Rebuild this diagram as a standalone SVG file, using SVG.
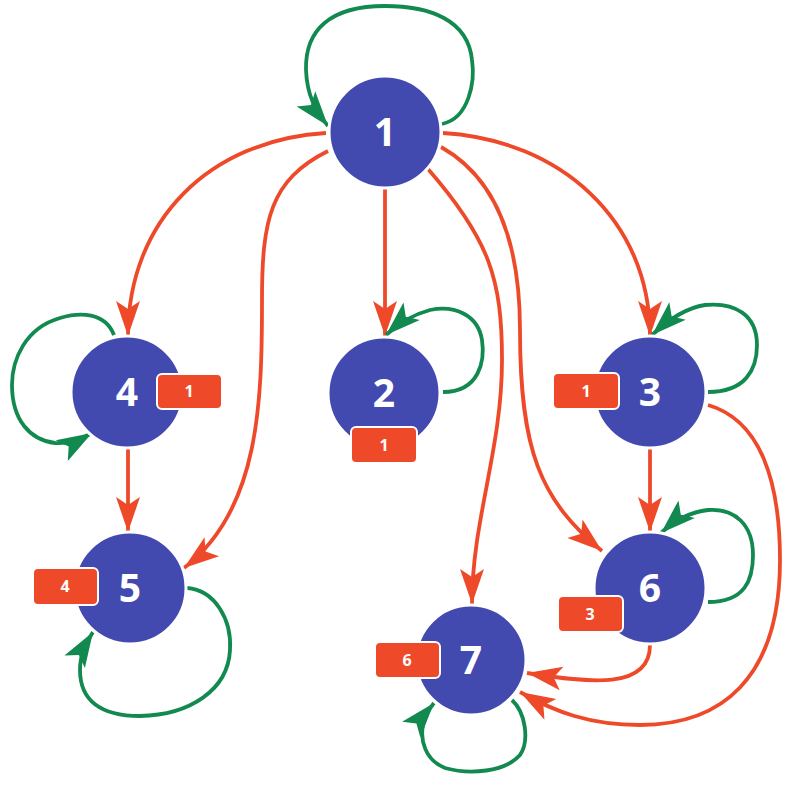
<svg xmlns="http://www.w3.org/2000/svg" width="800" height="787" viewBox="0 0 800 787">
<style>
.node{fill:#434aaf;stroke:#fff;stroke-width:3}
.lbl{font-family:"Open Sans","DejaVu Sans",sans-serif;font-weight:bold;font-size:39px;fill:#fff;text-anchor:middle}
.badge{fill:#ee4a2a;stroke:#fff;stroke-width:2}
.blbl{font-family:"Open Sans","DejaVu Sans",sans-serif;font-weight:bold;font-size:16px;fill:#fff;text-anchor:middle}
.e{fill:none;stroke:#ee4a2a;stroke-width:3.8;marker-end:url(#ao)}
.s{fill:none;stroke:#12894f;stroke-width:3.8;marker-end:url(#ag)}
</style>
<defs>
<marker id="ao" markerUnits="userSpaceOnUse" markerWidth="36" markerHeight="24" refX="35" refY="12" orient="auto" overflow="visible">
<path d="M0,0 L35,12 L0,24 L8,12 Z" fill="#ee4a2a"/>
</marker>
<marker id="ag" markerUnits="userSpaceOnUse" markerWidth="36" markerHeight="24" refX="35" refY="12" orient="auto" overflow="visible">
<path d="M0,0 L35,12 L0,24 L8,12 Z" fill="#12894f"/>
</marker>
</defs>
<rect width="800" height="787" fill="#fff"/>
<g id="connectors">
<path class="e" d="M443,133 C560,140 650,220 650,336"/>
<path class="e" d="M326,133 C210,140 128,220 128,336"/>
<path class="e" d="M385,189 L385,336"/>
<path class="e" d="M328,151 C270,180 262,220 262,300 C262,400 260,510 184,568"/>
<path class="e" d="M428,169 C490,240 502,280 502,360 C502,450 472,520 472,604"/>
<path class="e" d="M441,147 C500,180 520,250 520,330 C520,450 540,500 602,551"/>
<path class="e" d="M650,449 L650,532"/>
<path class="e" d="M128,449 L128,532"/>
<path class="e" d="M708,405 C760,420 780,480 780,560 C780,680 720,725 640,725 C590,725 555,712 520,692"/>
<path class="e" d="M650,645 C650,690 590,683 527,673"/>
<path class="s" d="M442,124 C470,118 475,80 472,60 C468,20 430,6 385,6 C330,6 305,30 306,70 C307,95 315,110 328,126"/>
<path class="s" d="M443,392 C480,392 485,360 482,340 C478,315 455,305 430,310 C415,314 400,322 386,335"/>
<path class="s" d="M708,392 C745,392 757,370 757,345 C757,315 735,302 705,305 C685,308 668,320 652,335"/>
<path class="s" d="M708,602 C745,602 753,580 753,555 C753,525 735,508 708,510 C690,512 675,520 661,533"/>
<path class="s" d="M114,335 C105,312 80,312 60,318 C25,328 12,360 12,385 C12,420 30,440 55,443 C68,444 80,440 92,433"/>
<path class="s" d="M187,588 C215,590 232,620 230,650 C228,690 190,715 140,716 C100,716 80,700 80,670 C80,655 85,645 93,632"/>
<path class="s" d="M512,700 C525,712 530,740 520,755 C505,772 470,775 445,768 C425,760 420,740 423,725 C425,718 428,710 434,703"/>
</g>
<g id="node1"><circle class="node" cx="385" cy="132" r="56"/><text class="lbl" x="385" y="146">1</text></g>
<g id="node2"><circle class="node" cx="384" cy="393" r="56"/><text class="lbl" x="384" y="407">2</text>
<rect class="badge" x="351" y="427" width="66" height="36" rx="5"/><text class="blbl" x="384" y="451">1</text></g>
<g id="node3"><circle class="node" cx="650" cy="392" r="56"/><text class="lbl" x="650" y="406">3</text>
<rect class="badge" x="553" y="373" width="66" height="36" rx="5"/><text class="blbl" x="586" y="397">1</text></g>
<g id="node4"><circle class="node" cx="127" cy="392" r="56"/><text class="lbl" x="127" y="406">4</text>
<rect class="badge" x="157" y="374" width="65" height="35" rx="5"/><text class="blbl" x="189" y="397">1</text></g>
<g id="node5"><circle class="node" cx="130" cy="588" r="56"/><text class="lbl" x="130" y="602">5</text>
<rect class="badge" x="33" y="568" width="65" height="37" rx="5"/><text class="blbl" x="65" y="592">4</text></g>
<g id="node6"><circle class="node" cx="650" cy="588" r="56"/><text class="lbl" x="650" y="602">6</text>
<rect class="badge" x="558" y="596" width="65" height="36" rx="5"/><text class="blbl" x="590" y="620">3</text></g>
<g id="node7"><circle class="node" cx="471" cy="660" r="55"/><text class="lbl" x="471" y="674">7</text>
<rect class="badge" x="375" y="642" width="65" height="36" rx="5"/><text class="blbl" x="407" y="666">6</text></g>
</svg>
